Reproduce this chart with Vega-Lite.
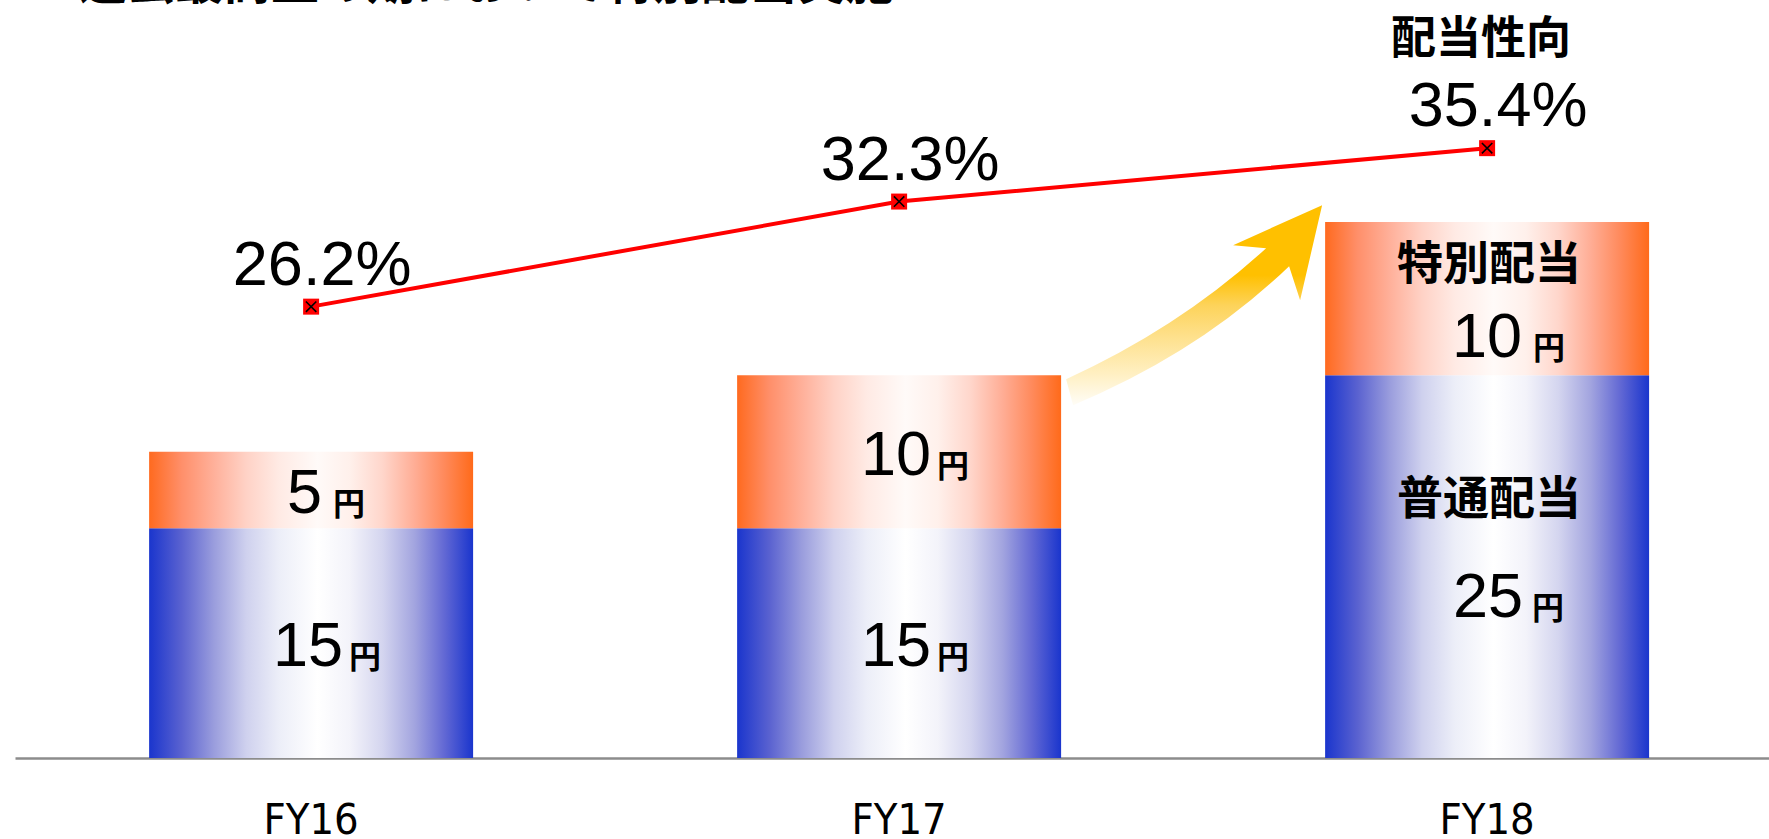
{
  "$schema": "https://vega.github.io/schema/vega-lite/v6.json",
  "width": 1754,
  "height": 758,
  "autosize": {"type": "none"},
  "padding": {"left": 15, "top": 0, "right": 0, "bottom": 81},
  "background": "white",
  "config": {"view": {"stroke": null}, "font": "Liberation Sans"},
  "title": {
    "text": "過去最高益の期において特別配当実施",
    "anchor": "start",
    "frame": "group",
    "orient": "top",
    "offset": -47,
    "baseline": "alphabetic",
    "dx": 64,
    "font": "Noto Sans CJK JP",
    "fontSize": 48,
    "fontWeight": "bold",
    "color": "black"
  },
  "datasets": {
    "div": [
      {"year": "FY16", "type": "普通配当", "value": 15},
      {"year": "FY16", "type": "特別配当", "value": 5},
      {"year": "FY17", "type": "普通配当", "value": 15},
      {"year": "FY17", "type": "特別配当", "value": 10},
      {"year": "FY18", "type": "普通配当", "value": 25},
      {"year": "FY18", "type": "特別配当", "value": 10}
    ],
    "ratio": [
      {"year": "FY16", "ratio": 26.2},
      {"year": "FY17", "ratio": 32.3},
      {"year": "FY18", "ratio": 35.4}
    ]
  },
  "resolve": {"scale": {"y": "independent"}},
  "layer": [
    {
      "data": {"name": "div"},
      "transform": [
        {"stack": "value", "groupby": ["year"], "sort": [{"field": "type", "order": "ascending"}], "as": ["y0", "y1"]},
        {"calculate": "(datum.y0 + datum.y1) / 2", "as": "mid"}
      ],
      "encoding": {
        "x": {
          "field": "year", "type": "nominal", "sort": ["FY16", "FY17", "FY18"],
          "scale": {"paddingInner": 0.449, "paddingOuter": 0.216, "align": 0.528},
          "axis": {
            "title": null, "domainColor": "#8c8c8c", "domainWidth": 2.5, "ticks": false,
            "labelAngle": 0, "labelFont": "Liberation Sans Narrow, DejaVu Sans Condensed, sans-serif",
            "labelFontSize": 43, "labelColor": "black", "labelPadding": 75,
            "labelBaseline": "alphabetic", "grid": false
          }
        }
      },
      "layer": [
        {
          "transform": [{"filter": "datum.type === '普通配当'"}],
          "mark": {
            "type": "bar",
            "fill": {"gradient": "linear", "x1": 0, "y1": 0, "x2": 1, "y2": 0, "stops": [
              {"offset": 0, "color": "#1a35cd"},
              {"offset": 0.1, "color": "#5a62d0"},
              {"offset": 0.2, "color": "#9a9ddd"},
              {"offset": 0.3, "color": "#cfd1ee"},
              {"offset": 0.4, "color": "#eceef8"},
              {"offset": 0.52, "color": "#ffffff"},
              {"offset": 0.62, "color": "#f3f3fa"},
              {"offset": 0.72, "color": "#d4d5ef"},
              {"offset": 0.82, "color": "#a2a4df"},
              {"offset": 0.91, "color": "#6369d4"},
              {"offset": 1, "color": "#1a35cd"}
            ]}
          },
          "encoding": {
            "y": {"field": "y1", "type": "quantitative", "scale": {"domain": [0, 49.5], "nice": false}, "axis": null},
            "y2": {"field": "y0"}
          }
        },
        {
          "transform": [{"filter": "datum.type === '特別配当'"}],
          "mark": {
            "type": "bar",
            "fill": {"gradient": "linear", "x1": 0, "y1": 0, "x2": 1, "y2": 0, "stops": [
              {"offset": 0, "color": "#ff6a1f"},
              {"offset": 0.1, "color": "#ff8f6a"},
              {"offset": 0.2, "color": "#ffb09a"},
              {"offset": 0.3, "color": "#ffd2c6"},
              {"offset": 0.4, "color": "#ffeae4"},
              {"offset": 0.52, "color": "#fffaf8"},
              {"offset": 0.62, "color": "#fff0eb"},
              {"offset": 0.72, "color": "#ffd6cb"},
              {"offset": 0.82, "color": "#ffad95"},
              {"offset": 0.91, "color": "#ff8a5c"},
              {"offset": 1, "color": "#ff6a1a"}
            ]}
          },
          "encoding": {
            "y": {"field": "y1", "type": "quantitative"},
            "y2": {"field": "y0"}
          }
        },
        {
          "transform": [{"filter": "datum.year === 'FY17' && datum.type === '特別配当'"}],
          "mark": {
            "type": "point",
            "shape": "M167,4Q281,-48,367,-127L334,-130L423,-170L401,-75L390,-109Q301,-23,174,30Z",
            "size": 4, "filled": true, "opacity": 1, "strokeWidth": 0,
            "fill": {"gradient": "linear", "x1": 0, "y1": 1, "x2": 0, "y2": 0, "stops": [
              {"offset": 0, "color": "#fffdf7"},
              {"offset": 0.15, "color": "#fff0c4"},
              {"offset": 0.35, "color": "#fee08a"},
              {"offset": 0.5, "color": "#fdd35a"},
              {"offset": 0.65, "color": "#ffc000"},
              {"offset": 1, "color": "#ffc000"}
            ]}
          },
          "encoding": {"y": {"field": "y1", "type": "quantitative"}}
        },
        {
          "transform": [{"filter": "datum.year !== 'FY18' && datum.value >= 10"}],
          "mark": {"type": "text", "align": "right", "baseline": "alphabetic", "dx": 32, "dy": 23, "fontSize": 63, "font": "Liberation Sans", "color": "black"},
          "encoding": {"y": {"field": "mid", "type": "quantitative"}, "text": {"field": "value", "type": "quantitative"}}
        },
        {
          "transform": [{"filter": "datum.year !== 'FY18' && datum.value >= 10"}],
          "mark": {"type": "text", "align": "left", "baseline": "alphabetic", "dx": 38, "dy": 25, "fontSize": 32, "font": "Noto Sans CJK JP", "fontWeight": "bold", "color": "black"},
          "encoding": {"y": {"field": "mid", "type": "quantitative"}, "text": {"value": "円"}}
        },
        {
          "transform": [{"filter": "datum.value < 10"}],
          "mark": {"type": "text", "align": "right", "baseline": "alphabetic", "dx": 11, "dy": 23, "fontSize": 63, "font": "Liberation Sans", "color": "black"},
          "encoding": {"y": {"field": "mid", "type": "quantitative"}, "text": {"field": "value", "type": "quantitative"}}
        },
        {
          "transform": [{"filter": "datum.value < 10"}],
          "mark": {"type": "text", "align": "left", "baseline": "alphabetic", "dx": 22, "dy": 25, "fontSize": 32, "font": "Noto Sans CJK JP", "fontWeight": "bold", "color": "black"},
          "encoding": {"y": {"field": "mid", "type": "quantitative"}, "text": {"value": "円"}}
        },
        {
          "transform": [{"filter": "datum.year === 'FY18' && datum.type === '特別配当'"}],
          "mark": {"type": "text", "align": "right", "baseline": "alphabetic", "dx": 35, "dy": 58, "fontSize": 63, "font": "Liberation Sans", "color": "black"},
          "encoding": {"y": {"field": "mid", "type": "quantitative"}, "text": {"field": "value", "type": "quantitative"}}
        },
        {
          "transform": [{"filter": "datum.year === 'FY18' && datum.type === '特別配当'"}],
          "mark": {"type": "text", "align": "left", "baseline": "alphabetic", "dx": 46, "dy": 60, "fontSize": 32, "font": "Noto Sans CJK JP", "fontWeight": "bold", "color": "black"},
          "encoding": {"y": {"field": "mid", "type": "quantitative"}, "text": {"value": "円"}}
        },
        {
          "transform": [{"filter": "datum.year === 'FY18' && datum.type === '特別配当'"}],
          "mark": {"type": "text", "align": "center", "baseline": "alphabetic", "dx": 2, "dy": -20, "fontSize": 46, "font": "Noto Sans CJK JP", "fontWeight": "bold", "color": "black"},
          "encoding": {"y": {"field": "mid", "type": "quantitative"}, "text": {"field": "type"}}
        },
        {
          "transform": [{"filter": "datum.year === 'FY18' && datum.type === '普通配当'"}],
          "mark": {"type": "text", "align": "right", "baseline": "alphabetic", "dx": 36, "dy": 50, "fontSize": 63, "font": "Liberation Sans", "color": "black"},
          "encoding": {"y": {"field": "mid", "type": "quantitative"}, "text": {"field": "value", "type": "quantitative"}}
        },
        {
          "transform": [{"filter": "datum.year === 'FY18' && datum.type === '普通配当'"}],
          "mark": {"type": "text", "align": "left", "baseline": "alphabetic", "dx": 45, "dy": 52, "fontSize": 32, "font": "Noto Sans CJK JP", "fontWeight": "bold", "color": "black"},
          "encoding": {"y": {"field": "mid", "type": "quantitative"}, "text": {"value": "円"}}
        },
        {
          "transform": [{"filter": "datum.year === 'FY18' && datum.type === '普通配当'"}],
          "mark": {"type": "text", "align": "center", "baseline": "alphabetic", "dx": 2, "dy": -53, "fontSize": 46, "font": "Noto Sans CJK JP", "fontWeight": "bold", "color": "black"},
          "encoding": {"y": {"field": "mid", "type": "quantitative"}, "text": {"field": "type"}}
        }
      ]
    },
    {
      "data": {"name": "ratio"},
      "encoding": {
        "x": {"field": "year", "type": "nominal", "sort": ["FY16", "FY17", "FY18"]},
        "y": {"field": "ratio", "type": "quantitative", "scale": {"domain": [0, 44], "nice": false}, "axis": null}
      },
      "layer": [
        {"mark": {"type": "line", "color": "#ff0000", "strokeWidth": 4}},
        {"mark": {"type": "point", "shape": "square", "size": 256, "filled": true, "fill": "#ff0000", "opacity": 1, "strokeWidth": 0}},
        {"mark": {"type": "point", "shape": "M-0.65,-0.65L0.65,0.65M-0.65,0.65L0.65,-0.65", "size": 256, "filled": false, "stroke": "black", "strokeWidth": 1.6, "opacity": 1}},
        {
          "transform": [{"calculate": "format(datum.ratio, '.1f') + '%'", "as": "lbl"}],
          "mark": {"type": "text", "align": "center", "baseline": "alphabetic", "dx": 11, "dy": -22, "fontSize": 63, "font": "Liberation Sans", "color": "black"},
          "encoding": {"text": {"field": "lbl"}}
        },
        {
          "transform": [{"filter": "datum.year === 'FY18'"}],
          "mark": {"type": "text", "align": "center", "baseline": "alphabetic", "dx": -6, "dy": -94, "fontSize": 45, "font": "Noto Sans CJK JP", "fontWeight": "bold", "color": "black"},
          "encoding": {"text": {"value": "配当性向"}}
        }
      ]
    }
  ]
}
